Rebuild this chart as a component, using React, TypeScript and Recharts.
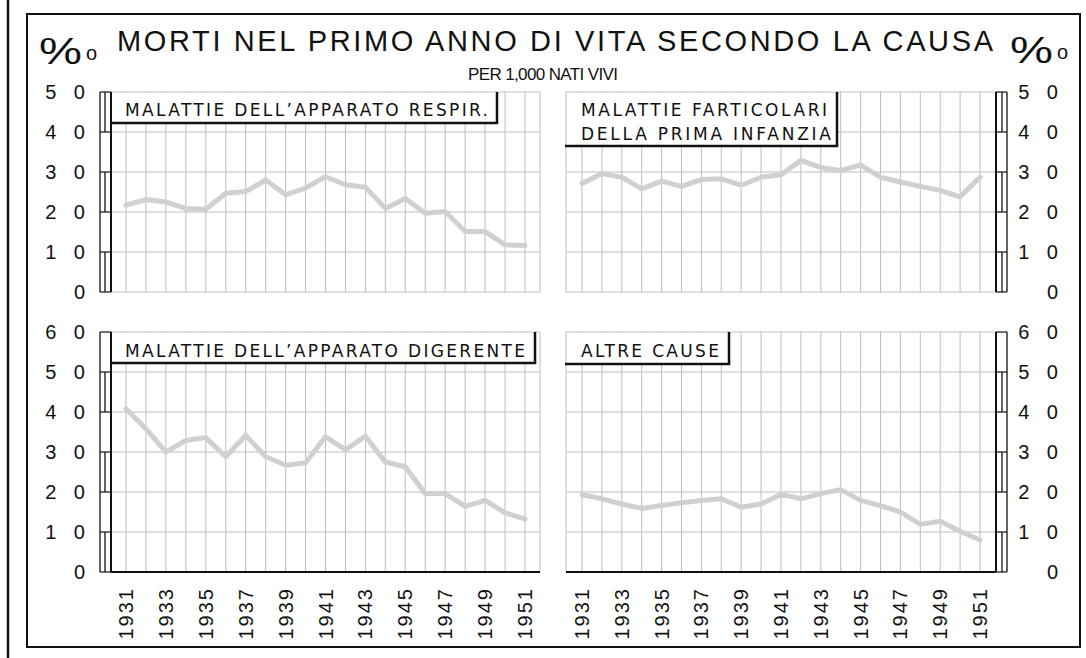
import React from 'react';
import { LineChart, Line, XAxis, YAxis, CartesianGrid } from 'recharts';

// anni e valori (morti per 1.000 nati vivi)
const YEARS = [1931, 1932, 1933, 1934, 1935, 1936, 1937, 1938, 1939, 1940, 1941, 1942, 1943, 1944, 1945, 1946, 1947, 1948, 1949, 1950, 1951];
const RESPIRATORIO = [21.7, 23.1, 22.5, 20.9, 20.7, 24.7, 25.1, 28.0, 24.3, 26.0, 28.8, 26.8, 26.2, 20.9, 23.4, 19.7, 20.1, 15.1, 15.1, 11.8, 11.6];
const PRIMA_INFANZIA = [27.1, 29.6, 28.7, 25.8, 27.7, 26.4, 28.1, 28.3, 26.7, 28.7, 29.3, 32.9, 31.1, 30.4, 31.7, 28.7, 27.5, 26.4, 25.4, 23.8, 28.7];
const DIGERENTE = [40.8, 35.8, 30.0, 32.9, 33.6, 28.8, 34.2, 28.8, 26.7, 27.3, 33.8, 30.6, 33.9, 27.5, 26.3, 19.6, 19.6, 16.4, 17.9, 14.8, 13.2];
const ALTRE = [19.3, 18.3, 17.0, 15.9, 16.6, 17.3, 17.9, 18.3, 16.2, 17.0, 19.4, 18.3, 19.6, 20.6, 17.9, 16.6, 15.0, 11.9, 12.7, 10.2, 8.0];

const TICKS_TOP = [0, 10, 20, 30, 40, 50];
const TICKS_BOTTOM = [0, 10, 20, 30, 40, 50, 60];

const TITLE = 'MORTI NEL PRIMO ANNO DI VITA SECONDO LA CAUSA';
const SUBTITLE = 'PER 1,000 NATI VIVI';

const INK = '#111';
const GRID = '#bdbdbd';
const LINE = '#d0d0d0';
const SANS = 'Liberation Sans, Arial, sans-serif';

const YTick = (props: any) => {
  const { x, y, payload, side, step, max } = props;
  const v = payload.value;
  const dir = side === 'left' ? -1 : 1;
  const outer = x + dir * 11;
  const mid = x + dir * 6;
  const label = String(v).split('').join(' ');
  return (
    <g>
      {v < max && (
        <>
          <line x1={outer} y1={y} x2={outer} y2={y - step} stroke={INK} strokeWidth={1.3} />
          {(v / 10) % 2 === 0 && <line x1={mid} y1={y} x2={mid} y2={y - step} stroke={INK} strokeWidth={1.3} />}
        </>
      )}
      <line x1={x} y1={y} x2={outer} y2={y} stroke={INK} strokeWidth={1.2} />
      <text
        x={side === 'left' ? x - 20 : x + 68}
        y={y}
        textAnchor="end"
        dominantBaseline="central"
        fontSize={20}
        letterSpacing={6}
        fill={INK}
        fontFamily={SANS}
      >
        {label}
      </text>
    </g>
  );
};

const YearTick = (props: any) => {
  const { x, y, payload } = props;
  if ((payload.value - YEARS[0]) % 2 !== 0) return <g />;
  const ty = y + 15;
  return (
    <text
      x={x}
      y={ty}
      transform={`rotate(-90 ${x} ${ty})`}
      textAnchor="end"
      dominantBaseline="central"
      fontSize={20}
      letterSpacing={2}
      fill={INK}
      fontFamily={SANS}
    >
      {payload.value}
    </text>
  );
};

interface PanelProps {
  left: number;
  top: number;
  side: 'left' | 'right';
  values: number[];
  ticks: number[];
  showYears: boolean;
}

const Panel = ({ left, top, side, values, ticks, showYears }: PanelProps) => {
  const rows = YEARS.map((year, i) => ({ year, v: values[i] }));
  const height = showYears ? 330 : 220;
  const xh = showYears ? 70 : 0;
  const plotH = height - 20 - xh;
  const step = plotH / (ticks.length - 1);
  const max = ticks[ticks.length - 1];
  const pad = side === 'left' ? 15 : 16;
  const margin = side === 'left'
    ? { top: 10, right: 10, bottom: 10, left: 0 }
    : { top: 10, right: 0, bottom: 10, left: 10 };
  return (
    <div style={{ position: 'absolute', left, top }}>
      <LineChart width={520} height={height} data={rows} margin={margin}>
        <CartesianGrid stroke={GRID} strokeWidth={1} />
        <XAxis
          dataKey="year"
          type="number"
          domain={[YEARS[0], YEARS[YEARS.length - 1]]}
          ticks={YEARS}
          interval={0}
          padding={{ left: pad, right: pad }}
          height={xh}
          axisLine={{ stroke: INK, strokeWidth: 2 }}
          tickLine={false}
          tickSize={0}
          tickMargin={0}
          tick={showYears ? <YearTick /> : () => <g />}
        />
        <YAxis
          orientation={side}
          width={side === 'left' ? 81 : 80}
          domain={[0, max]}
          ticks={ticks}
          interval={0}
          axisLine={{ stroke: INK, strokeWidth: 2 }}
          tickLine={false}
          tickSize={0}
          tickMargin={0}
          tick={<YTick side={side} step={step} max={max} />}
        />
        <YAxis
          yAxisId="edge"
          orientation={side === 'left' ? 'right' : 'left'}
          width={0}
          domain={[0, max]}
          ticks={ticks}
          axisLine={{ stroke: INK, strokeWidth: 2 }}
          tickLine={false}
          tick={false}
        />
        <Line
          type="linear"
          dataKey="v"
          stroke={LINE}
          strokeWidth={5}
          strokeLinejoin="round"
          strokeLinecap="round"
          dot={false}
          isAnimationActive={false}
        />
      </LineChart>
    </div>
  );
};

const boxText = {
  fontFamily: 'DejaVu Sans, sans-serif',
  fontSize: 17,
  fill: INK,
} as const;

const LabelBox = ({ x, y, w, h }: { x: number; y: number; w: number; h: number }) => (
  <g>
    <rect x={x} y={y} width={w} height={h} fill="#fff" />
    <line x1={x + w} y1={y - 1} x2={x + w} y2={y + h} stroke={INK} strokeWidth={2.5} />
    <line x1={x - 2} y1={y + h} x2={x + w + 1.2} y2={y + h} stroke={INK} strokeWidth={2.5} />
  </g>
);

const PerMille = ({ x, y }: { x: number; y: number }) => (
  <g fill={INK} fontFamily={SANS}>
    <text x={x} y={y} fontSize={36} textLength={43} lengthAdjust="spacingAndGlyphs">%</text>
    <text x={x + 47} y={y - 4} fontSize={20}>o</text>
  </g>
);

export default function App() {
  return (
    <div style={{ position: 'absolute', left: 0, top: 0, width: 1086, height: 658, background: '#fff' }}>
      <svg width={1086} height={658} style={{ position: 'absolute', left: 0, top: 0 }}>
        <line x1={8} y1={0} x2={8} y2={658} stroke={INK} strokeWidth={2.5} />
        <rect x={27} y={14} width={1053} height={633} fill="none" stroke={INK} strokeWidth={2} />
        <text x={117} y={51} textLength={876} lengthAdjust="spacing" fontSize={29} fill={INK}
          fontFamily="Liberation Sans Narrow, Arial Narrow, sans-serif">{TITLE}</text>
        <text x={468} y={80} textLength={150} lengthAdjust="spacing" fontSize={17} fill={INK}
          fontFamily="Liberation Sans Narrow, Arial Narrow, sans-serif">{SUBTITLE}</text>
        <PerMille x={39} y={64} />
        <PerMille x={1010} y={63} />
      </svg>

      <Panel left={30} top={82} side="left" values={RESPIRATORIO} ticks={TICKS_TOP} showYears={false} />
      <Panel left={556} top={82} side="right" values={PRIMA_INFANZIA} ticks={TICKS_TOP} showYears={false} />
      <Panel left={30} top={322} side="left" values={DIGERENTE} ticks={TICKS_BOTTOM} showYears />
      <Panel left={556} top={322} side="right" values={ALTRE} ticks={TICKS_BOTTOM} showYears />

      <svg width={1086} height={658} style={{ position: 'absolute', left: 0, top: 0, pointerEvents: 'none' }}>
        <LabelBox x={112} y={93} w={385} h={30} />
        <text x={125} y={116} textLength={363} lengthAdjust="spacing" {...boxText}>MALATTIE DELL’APPARATO RESPIR.</text>

        <LabelBox x={567} y={93} w={270} h={53} />
        <text x={581} y={116} textLength={246} lengthAdjust="spacing" {...boxText}>MALATTIE FARTICOLARI</text>
        <text x={581} y={140} textLength={250} lengthAdjust="spacing" {...boxText}>DELLA PRIMA INFANZIA</text>

        <LabelBox x={112} y={333} w={423} h={30} />
        <text x={125} y={357} textLength={400} lengthAdjust="spacing" {...boxText}>MALATTIE DELL’APPARATO DIGERENTE</text>

        <LabelBox x={567} y={333} w={162} h={31} />
        <text x={581} y={357} textLength={138} lengthAdjust="spacing" {...boxText}>ALTRE CAUSE</text>
      </svg>
    </div>
  );
}
